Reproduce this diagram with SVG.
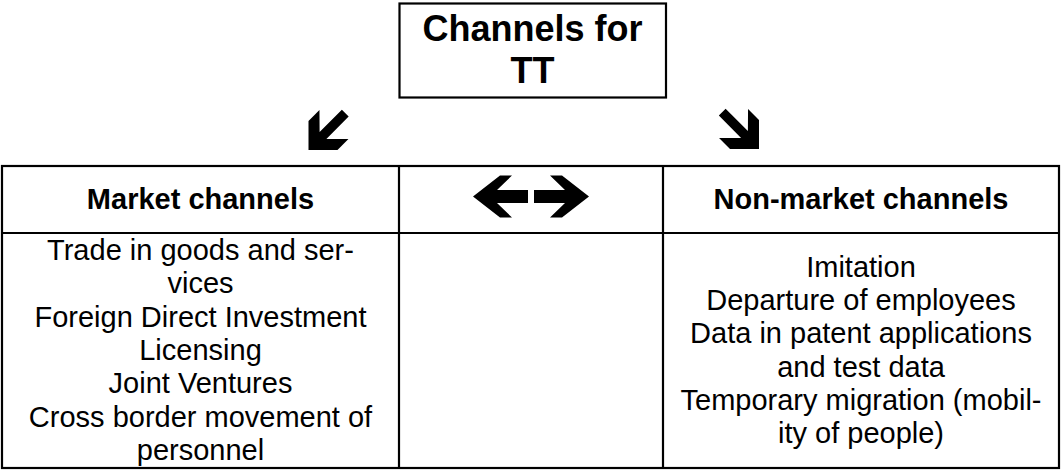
<svg xmlns="http://www.w3.org/2000/svg" width="1061" height="470" viewBox="0 0 1061 470">
  <style>
    .box { fill: #ffffff; stroke: #000000; stroke-width: 2.2; }
    .line { stroke: #000000; stroke-width: 2.2; fill: none; }
    .title { font-family: "Liberation Sans", Arial, sans-serif; font-size: 36px; font-weight: bold; fill: #000000; text-anchor: middle; }
    .head { font-family: "Liberation Sans", Arial, sans-serif; font-size: 29px; font-weight: bold; fill: #000000; text-anchor: middle; }
    .body { font-family: "Liberation Sans", Arial, sans-serif; font-size: 29px; fill: #000000; text-anchor: middle; }
    .arrow { fill: #000000; stroke: none; }
  </style>
  <defs>
    <polygon id="harrow" points="0,0 -27,-21 -39,-21 -24,-6.5 -55,-6.5 -55,6.5 -24,6.5 -39,21 -27,21"/>
    <polygon id="darrow" points="0,0 -20.5,-20.5 -36,-20.5 -20.5,-4.8 -52,-4.8 -52,4.8 -20.5,4.8 -36,20.5 -20.5,20.5"/>
  </defs>
  <rect width="1061" height="470" fill="#ffffff"/>

  <g id="title-node">
    <rect class="box" x="399.5" y="3.5" width="266.5" height="94"/>
    <text class="title" x="532.5" y="41">Channels for</text>
    <text class="title" x="532.5" y="83">TT</text>
  </g>

  <g id="table">
    <rect class="box" x="2" y="166" width="1057" height="302"/>
    <line class="line" x1="2" y1="233" x2="1059" y2="233"/>
    <line class="line" x1="399" y1="166" x2="399" y2="468"/>
    <line class="line" x1="663" y1="166" x2="663" y2="468"/>
  </g>

  <g id="market-channels">
    <text class="head" x="200.5" y="209">Market channels</text>
    <text class="body" x="200.5" y="260">Trade in goods and ser-</text>
    <text class="body" x="200.5" y="293.3">vices</text>
    <text class="body" x="200.5" y="326.7">Foreign Direct Investment</text>
    <text class="body" x="200.5" y="360">Licensing</text>
    <text class="body" x="200.5" y="393.4">Joint Ventures</text>
    <text class="body" x="200.5" y="426.7">Cross border movement of</text>
    <text class="body" x="200.5" y="460">personnel</text>
  </g>

  <g id="non-market-channels">
    <text class="head" x="861" y="209">Non-market channels</text>
    <text class="body" x="861" y="276.6">Imitation</text>
    <text class="body" x="861" y="310">Departure of employees</text>
    <text class="body" x="861" y="343.3">Data in patent applications</text>
    <text class="body" x="861" y="376.7">and test data</text>
    <text class="body" x="861" y="410">Temporary migration (mobil-</text>
    <text class="body" x="861" y="443.4">ity of people)</text>
  </g>

  <g id="connectors">
    <use href="#darrow" class="arrow" transform="translate(308.5,150) rotate(135)"/>
    <use href="#darrow" class="arrow" transform="translate(759,149) rotate(45)"/>
    <use href="#harrow" class="arrow" transform="translate(473,196.5) rotate(180)"/>
    <use href="#harrow" class="arrow" transform="translate(589,196.5)"/>
  </g>
</svg>
